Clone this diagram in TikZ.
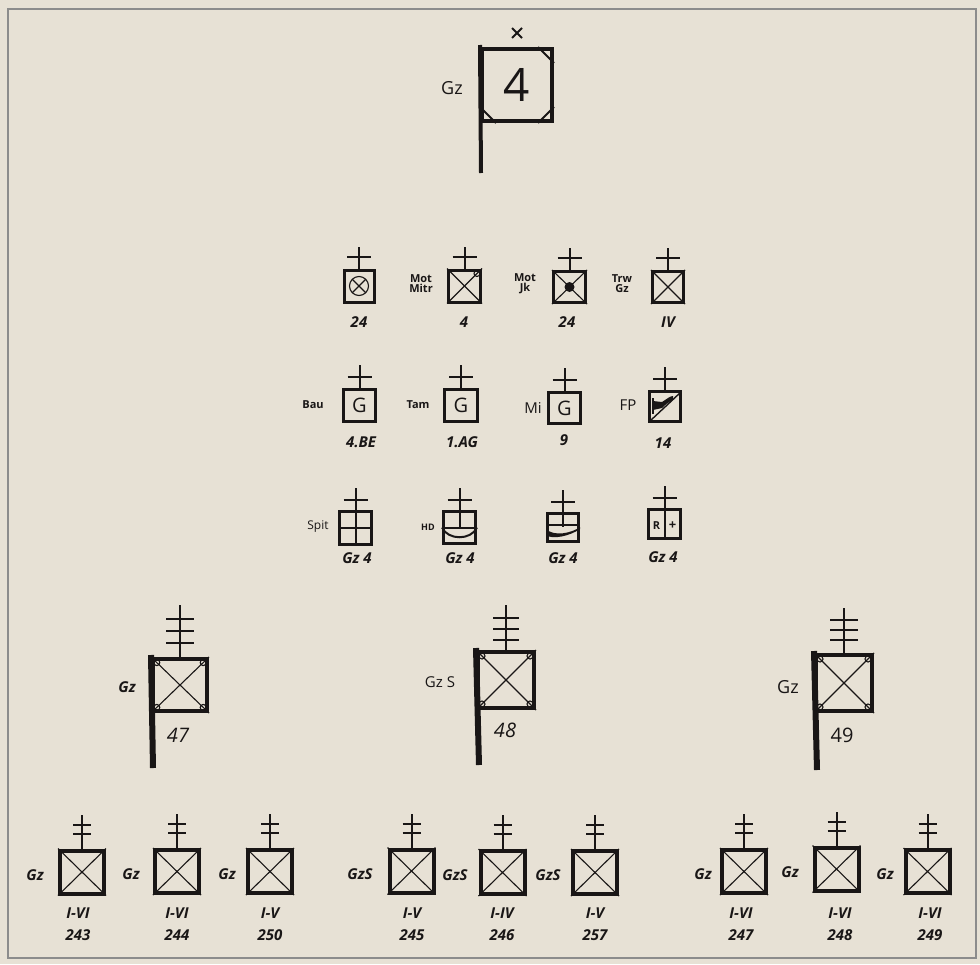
\documentclass[tikz,border=0pt]{standalone}
\usepackage{fontspec}
\setmainfont{Open Sans}
\definecolor{paper}{RGB}{231,225,213}
\definecolor{ink}{RGB}{25,22,22}
\usetikzlibrary{calc}
\tikzset{
  sq/.style={draw=ink, line width=#1, inner sep=0pt},
  thn/.style={draw=ink, line width=1.1pt},
  stem/.style={draw=ink, line width=2pt},
  pole/.style={draw=ink, line width=4pt},
  lbl/.style={text=ink, inner sep=0pt, font=\fontsize{15}{15}\selectfont},
  sml/.style={text=ink, inner sep=0pt, align=center, font=\bfseries\fontsize{11}{10}\selectfont},
  num/.style={text=ink, inner sep=0pt, font=\bfseries\itshape\fontsize{15}{15}\selectfont},
}
\newcommand\crossup[3]{%
  \draw[stem] (#1.north) -- ++(0,-#2);
  \draw[stem] ([xshift=-12pt,yshift=#3pt]#1.north) -- ++(24,0);}
\newcommand\antthree[4]{%
  \draw[stem] (#1.north) -- ++(0,-#2);
  \foreach \o in {#3} \draw[stem] ([xshift=-#4pt,yshift=\o pt]#1.north) -- ++(2*#4,0);}
\newcommand\xcross[1]{%
  \draw[thn] (#1.south west) -- (#1.north east);
  \draw[thn] (#1.north west) -- (#1.south east);}
\newcommand\ringcorners[1]{%
  \foreach \a in {north west,north east,south west,south east}
    \draw[thn] ($(#1.center)!0.8!(#1.\a)$) circle (3);}
\begin{document}
\begin{tikzpicture}[x=1pt,y=-1pt]
\fill[paper] (0,0) rectangle (980,964);
\useasboundingbox (0,0) rectangle (980,964);
\draw[black!45, line width=1.2pt] (8,9) rectangle (976,958);

% ---------- top symbol ----------
\node[sq=4pt, minimum width=70, minimum height=72] (t) at (517,85) {};
\node[text=ink, font=\fontsize{46}{46}\selectfont] (t4) at (t.center) {4};
\draw[pole] ([yshift=2pt]t.north west) -- (481,173) coordinate (tp);
\draw[ink,line width=2pt] ([shift={(-16,0)}]t.north east) -- ([shift={(0,16)}]t.north east);
\draw[ink,line width=2pt] ([shift={(0,-16)}]t.south west) -- ([shift={(16,0)}]t.south west);
\draw[ink,line width=2pt] ([shift={(-16,0)}]t.south east) -- ([shift={(0,-16)}]t.south east);
\draw[ink, line width=2pt] (512,28) -- (522,38) (512,38) -- (522,28);
\coordinate (tx) at (517,33);
\node[lbl, font=\fontsize{18}{18}\selectfont] (tgz) at (452,88) {Gz};

% ---------- row 1 ----------
\node[sq=3pt, minimum width=30, minimum height=32] (s1) at (359,286) {};
\node[sq=3pt, minimum width=32, minimum height=32] (s2) at (464.5,286) {};
\node[sq=3pt, minimum width=32, minimum height=31] (s3) at (569.5,287) {};
\node[sq=3pt, minimum width=31, minimum height=31] (s4) at (668,287) {};
\foreach \n in {s1,s2,s3,s4} {\crossup{\n}{22}{12}}
\draw[thn] (s1.center) circle (9.5);
\draw[thn] ($(s1.center)+(-6.7,-6.7)$) -- ($(s1.center)+(6.7,6.7)$);
\draw[thn] ($(s1.center)+(-6.7,6.7)$) -- ($(s1.center)+(6.7,-6.7)$);
\xcross{s2}\draw[thn] ($(s2.north east)+(-5,5)$) circle (3);
\xcross{s3}\fill[ink] (s3.center) circle (5);
\xcross{s4}
\node[num] (l24a) at (359,322) {24};
\node[num] (l4) at (464,322) {4};
\node[num] (l24b) at (567,322) {24};
\node[num] (liv) at (668,322) {IV};
\node[sml] (mot1) at (421,284) {Mot\\Mitr};
\node[sml] (mot2) at (525,284) {Mot\\Jk};
\node[sml] (trw) at (622,284) {Trw\\Gz};

% ---------- row 2 ----------
\node[sq=3pt, minimum width=32, minimum height=32, text=ink, font=\fontsize{20}{20}\selectfont] (b1) at (359.5,405.5) {G};
\node[sq=3pt, minimum width=33, minimum height=32, text=ink, font=\fontsize{20}{20}\selectfont] (b2) at (461,405.5) {G};
\node[sq=3pt, minimum width=32, minimum height=31, text=ink, font=\fontsize{20}{20}\selectfont] (b3) at (564.5,408) {G};
\node[sq=3pt, minimum width=31, minimum height=30] (b4) at (665,406.5) {};
\foreach \n in {b1,b2,b3,b4} {\crossup{\n}{23}{11}}
\draw[ink, line width=2.5pt] (653,398) -- (653,414);
\fill[ink] (653,401) -- (662,402) .. controls (667,399) and (670,396) .. (673,396) -- (673,400) .. controls (668,402) and (664,406) .. (662,408) -- (653,410) -- cycle;
\draw[thn, line width=1.4pt] ($(b4.south west)+(2,-2)$) -- ($(b4.north east)+(-1,2)$);
\node[sml] (bau) at (313,405) {Bau};
\node[sml] (tam) at (418,405) {Tam};
\node[lbl] (mi) at (533,408) {Mi};
\node[lbl] (fp) at (628,405) {FP};
\node[num] (l4be) at (361,442) {4.BE};
\node[num] (l1ag) at (462,442) {1.AG};
\node[num] (l9) at (564,440) {9};
\node[num] (l14) at (663,443) {14};

% ---------- row 3 ----------
\node[sq=3pt, minimum width=32, minimum height=33] (c1) at (355.5,528) {};
\node[sq=3pt, minimum width=32, minimum height=32] (c2) at (459.5,527.5) {};
\node[sq=3pt, minimum width=31, minimum height=28] (c3) at (563,527) {};
\node[sq=3pt, minimum width=32, minimum height=29] (c4) at (664.5,524) {};
\foreach \n in {c1,c2,c3,c4} {\crossup{\n}{22}{10}}
\draw[stem] (c1.north) -- (c1.south);
\draw[stem] (c1.west) -- (c1.east);
\draw[stem] (c2.north) -- (c2.center);
\draw[stem] (c2.west) -- (c2.east);
\draw[stem] (c2.west) .. controls ($(c2.west)+(6,13)$) and ($(c2.east)+(-6,13)$) .. (c2.east);
\draw[stem] (c3.north) -- (c3.center);
\draw[stem] ($(c3.west)+(0,-2)$) -- ($(c3.east)+(0,-2)$);
\fill[ink] ($(c3.west)+(0,2)$) .. controls ($(c3.west)+(8,10)$) and ($(c3.east)+(-8,6)$) .. ($(c3.east)+(0,0)$) -- ($(c3.east)+(0,2)$) .. controls ($(c3.east)+(-10,9)$) and ($(c3.west)+(6,13)$) .. ($(c3.west)+(0,8)$) -- cycle;
\draw[stem] (c4.north) -- (c4.south);
\node[text=ink, font=\bfseries\fontsize{11}{11}\selectfont] (rr) at ($(c4.center)+(-8,2)$) {R};
\node[text=ink, font=\bfseries\fontsize{13}{13}\selectfont] (rp) at ($(c4.center)+(8,2)$) {+};
\node[sml, font=\fontsize{12}{12}\selectfont] (spit) at (318,527) {Spit};
\node[sml, font=\bfseries\fontsize{9}{9}\selectfont] (hd) at (428,527) {HD};
\node[num] (g1) at (357,558) {Gz 4};
\node[num] (g2) at (460,558) {Gz 4};
\node[num] (g3) at (563,558) {Gz 4};
\node[num] (g4) at (663,557) {Gz 4};

% ---------- big symbols ----------
\node[sq=4pt, minimum width=54, minimum height=52] (B1) at (180,685) {};
\node[sq=4pt, minimum width=56, minimum height=56] (B2) at (506,680) {};
\node[sq=4pt, minimum width=56, minimum height=56] (B3) at (844,683) {};
\foreach \n in {B1,B2,B3} {\xcross{\n}\ringcorners{\n}}
\draw[pole, line width=6pt] ([yshift=2pt]B1.north west) -- (153,768) coordinate (p1);
\draw[pole, line width=6pt] ([yshift=2pt]B2.north west) -- (479,765) coordinate (p2);
\draw[pole, line width=6pt] ([yshift=2pt]B3.north west) -- (817,770) coordinate (p3);
\antthree{B1}{52}{38,26,14}{14}
\antthree{B2}{45}{32,21,10}{13}
\antthree{B3}{45}{33,23,13}{14}
\node[num] (gz47) at (127,687) {Gz};
\node[num, font=\itshape\fontsize{20}{20}\selectfont] (n47) at (178,735) {47};
\node[lbl] (gzs48) at (440,682) {Gz S};
\node[num, font=\itshape\fontsize{20}{20}\selectfont] (n48) at (505,730) {48};
\node[lbl, font=\fontsize{18}{18}\selectfont] (gz49) at (788,687) {Gz};
\node[num, font=\fontsize{20}{20}\selectfont] (n49) at (842,735) {49};

% ---------- bottom row ----------
\foreach \n/\x/\y/\side/\sx/\rom/\num/\nx in {
  L1/82/872/Gz/35/I-VI/243/78,
  L2/177/871.5/Gz/131/I-VI/244/177,
  L3/270/871.5/Gz/227/I-V/250/270,
  L4/411.5/871/GzS/360/I-V/245/412,
  L5/502.5/872.5/GzS/455/I-IV/246/502,
  L6/595/872.5/GzS/548/I-V/257/595,
  L7/744/871.5/Gz/703/I-VI/247/741,
  L8/836.5/869/Gz/790/I-VI/248/840,
  L9/927.5/871.5/Gz/885/I-VI/249/930} {
  \node[sq=4pt, minimum width=44, minimum height=43] (\n) at (\x,\y) {};
  \xcross{\n}
  \antthree{\n}{34}{24,15}{9}
  \node[num] (\n s) at (\sx,\y+3) {\side};
  \node[num] (\n r) at (\nx,913) {\rom};
  \node[num] (\n n) at (\nx,935) {\num};
}
\end{tikzpicture}
\end{document}
